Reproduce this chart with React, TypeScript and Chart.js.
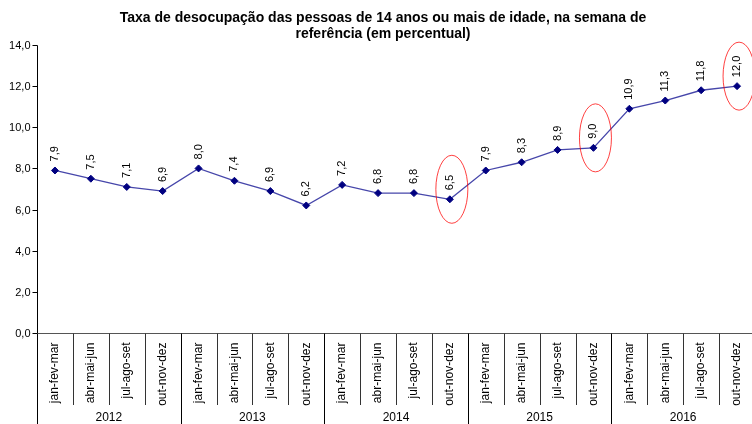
import React, { useEffect, useRef } from "react";
import { Chart, registerables } from "chart.js";

Chart.register(...registerables);

const titleLines = [
  "Taxa de desocupação das pessoas de 14 anos ou mais de idade, na semana de",
  "referência (em percentual)",
];
const quarters = ["jan-fev-mar", "abr-mai-jun", "jul-ago-set", "out-nov-dez"];
const years = ["2012", "2013", "2014", "2015", "2016"];
const categories = years.flatMap(() => quarters);
const values = [7.9, 7.5, 7.1, 6.9, 8.0, 7.4, 6.9, 6.2, 7.2, 6.8, 6.8, 6.5, 7.9, 8.3, 8.9, 9.0, 10.9, 11.3, 11.8, 12.0];
const yTicks = [0, 2, 4, 6, 8, 10, 12, 14];
const highlighted = [11, 15, 19];

const FONT = "'Liberation Sans', Arial, sans-serif";
const fmt = (v: number) => v.toFixed(1).replace(".", ",");

const overlay = {
  id: "overlay",
  afterDraw(chart: any) {
    const ctx = chart.ctx as CanvasRenderingContext2D;
    const area = chart.chartArea;
    const xs = chart.scales.x;
    const ys = chart.scales.y;
    const L = Math.round(area.left) + 0.5;
    const B = Math.round(area.bottom) + 0.5;
    const catW = (area.right - area.left) / categories.length;
    ctx.save();

    // title
    ctx.fillStyle = "#000";
    ctx.font = `bold 14px ${FONT}`;
    ctx.textAlign = "center";
    ctx.textBaseline = "middle";
    titleLines.forEach((t, i) => ctx.fillText(t, 383, 18 + i * 16));

    // y axis
    ctx.strokeStyle = "#000";
    ctx.lineWidth = 1;
    ctx.beginPath();
    ctx.moveTo(L, Math.round(area.top) + 0.5);
    ctx.lineTo(L, 424);
    ctx.stroke();
    ctx.font = `11px ${FONT}`;
    ctx.textAlign = "right";
    yTicks.forEach((t) => {
      const y = Math.round(ys.getPixelForValue(t)) + 0.5;
      ctx.beginPath();
      ctx.moveTo(L - 5, y);
      ctx.lineTo(L, y);
      ctx.stroke();
      ctx.fillText(fmt(t), L - 7, y);
    });

    // x axis
    ctx.strokeStyle = "#555";
    ctx.beginPath();
    ctx.moveTo(L, B);
    ctx.lineTo(area.right, B);
    ctx.stroke();
    for (let i = 1; i <= categories.length; i++) {
      const x = Math.round(area.left + i * catW) + 0.5;
      const isYear = i % quarters.length === 0;
      ctx.strokeStyle = isYear ? "#000" : "#333";
      ctx.beginPath();
      ctx.moveTo(x, B);
      ctx.lineTo(x, isYear ? 424 : 405);
      ctx.stroke();
    }
    // category labels
    ctx.fillStyle = "#000";
    ctx.font = `12px ${FONT}`;
    categories.forEach((c, i) => {
      const x = xs.getPixelForValue(i);
      ctx.save();
      ctx.translate(x, B + 9);
      ctx.rotate(-Math.PI / 2);
      ctx.textAlign = "right";
      ctx.textBaseline = "middle";
      ctx.fillText(c, 0, 0);
      ctx.restore();
    });
    // year labels
    ctx.textAlign = "center";
    ctx.textBaseline = "middle";
    years.forEach((yr, k) => {
      const x = area.left + (k * quarters.length + quarters.length / 2) * catW;
      ctx.fillText(yr, x, 418);
    });

    // data labels
    ctx.font = `11px ${FONT}`;
    const meta = chart.getDatasetMeta(0);
    meta.data.forEach((p: any, i: number) => {
      ctx.save();
      ctx.translate(p.x, p.y - 9);
      ctx.rotate(-Math.PI / 2);
      ctx.textAlign = "left";
      ctx.textBaseline = "middle";
      ctx.fillText(fmt(values[i]), 0, 0);
      ctx.restore();
    });

    // highlight ellipses
    ctx.strokeStyle = "rgba(255,0,0,0.75)";
    ctx.lineWidth = 1;
    highlighted.forEach((i) => {
      const p = meta.data[i];
      ctx.beginPath();
      ctx.ellipse(p.x + 2, p.y - 10, 16, 34, 0, 0, Math.PI * 2);
      ctx.stroke();
    });
    ctx.restore();
  },
};

export default function App() {
  const ref = useRef<HTMLCanvasElement>(null);
  useEffect(() => {
    const chart = new Chart(ref.current!, {
      type: "line",
      data: {
        labels: categories,
        datasets: [
          {
            data: values,
            borderColor: "#4646aa",
            borderWidth: 1.3,
            pointStyle: "rectRot",
            pointRadius: 3.5,
            pointBackgroundColor: "#000080",
            pointBorderColor: "#000080",
            pointBorderWidth: 1,
            tension: 0,
          },
        ],
      },
      options: {
        responsive: false,
        animation: false,
        layout: { padding: { left: 37, right: 4, top: 45, bottom: 91 } },
        scales: {
          x: { type: "category", display: false, offset: true },
          y: { min: 0, max: 14, display: false },
        },
        plugins: { legend: { display: false }, tooltip: { enabled: false }, title: { display: false } },
      },
      plugins: [overlay],
    });
    return () => chart.destroy();
  }, []);
  return (
    <div style={{ position: "fixed", left: 0, top: 0, width: 752, height: 424, overflow: "hidden", background: "#fff" }}>
      <canvas ref={ref} width={760} height={424} style={{ width: 760, height: 424, display: "block" }} />
    </div>
  );
}
